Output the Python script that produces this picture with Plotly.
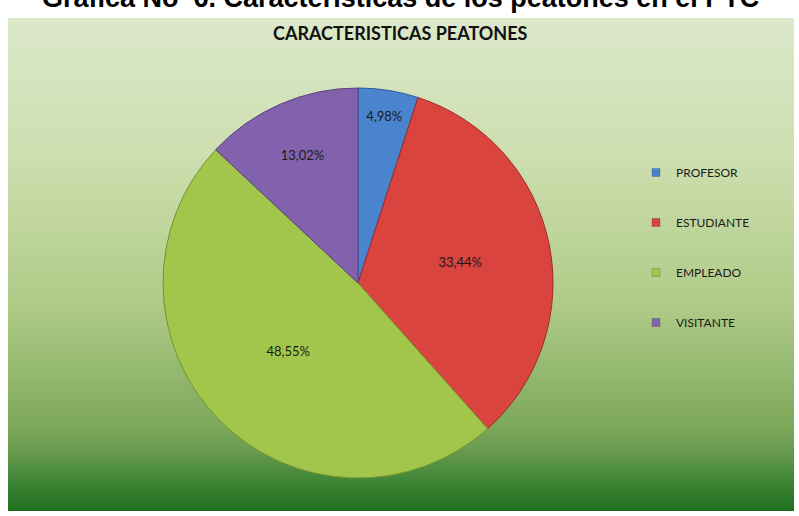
import plotly.graph_objects as go

categories = ["PROFESOR", "ESTUDIANTE", "EMPLEADO", "VISITANTE"]
values = [4.98, 33.44, 48.55, 13.02]
colors = ["#4a84cf", "#d9443f", "#a2c64c", "#8262ac"]
line_colors = ["#2d5d99", "#9c2a28", "#74952e", "#5a4080"]

W, H = 799, 516
frame_x0, frame_x1 = 8, 794
frame_y0, frame_y1 = 18, 511   # pixels from top

bg_levels = [0, 1]
bg_scale = [
    [0.0, "rgb(30,110,30)"],
    [0.065, "rgb(65,135,55)"],
    [0.125, "rgb(105,155,80)"],
    [0.17, "rgb(125,168,90)"],
    [0.42, "rgb(175,203,135)"],
    [0.72, "rgb(205,222,175)"],
    [1.0, "rgb(220,232,202)"],
]

fig = go.Figure()

fig.add_trace(go.Heatmap(
    x=[0, 1], y=bg_levels, z=[[v, v] for v in bg_levels],
    colorscale=bg_scale, zmin=0, zmax=1, zsmooth="best",
    showscale=False, hoverinfo="skip", showlegend=False,
))

for name, c in zip(categories, colors):
    fig.add_trace(go.Scatter(
        x=[None], y=[None], mode="markers", name=name,
        legendgroup=name,
        marker=dict(symbol="square", size=8, color=c,
                    line=dict(color="rgba(0,0,0,0.35)", width=0.5)),
    ))

cx, cy, r = 358, 283, 195
fig.add_trace(go.Pie(
    labels=categories, values=values, sort=False, direction="clockwise",
    rotation=0, showlegend=False,
    marker=dict(colors=colors, line=dict(color=line_colors, width=1)),
    texttemplate="%{value:.2f}%", textposition="inside",
    insidetextorientation="horizontal",
    textfont=dict(family="Lato", size=13, color="#1a1a1a"),
    domain=dict(x=[(cx - r) / W, (cx + r) / W],
                y=[(H - cy - r) / H, (H - cy + r) / H]),
    hoverinfo="label+percent",
))

fig.update_layout(
    width=W, height=H,
    margin=dict(l=0, r=0, t=0, b=0),
    paper_bgcolor="white",
    plot_bgcolor="rgba(0,0,0,0)",
    separators=",.",
    xaxis=dict(domain=[frame_x0 / W, frame_x1 / W], range=[0, 1],
               visible=False, fixedrange=True),
    yaxis=dict(domain=[(H - frame_y1) / H, (H - frame_y0) / H], range=[0, 1],
               visible=False, fixedrange=True),
    showlegend=True,
    legend=dict(x=636 / W, y=(H - 158) / H, xanchor="left", yanchor="top",
                bgcolor="rgba(0,0,0,0)", traceorder="grouped",
                tracegroupgap=31,
                font=dict(family="Lato", size=12, color="#1a1a1a"),
                itemwidth=30),
    annotations=[
        dict(text="<b>CARACTERISTICAS PEATONES</b>", x=(frame_x0 + frame_x1) / 2 / W,
             y=(H - 33) / H, xref="paper", yref="paper",
             xanchor="center", yanchor="middle", showarrow=False,
             font=dict(family="Lato", size=18, color="#111111")),
        dict(text="<b>Grafica No  6. Caracteristicas de los peatones en el PTC</b>",
             x=400 / W, y=(H - 15) / H, xref="paper", yref="paper",
             xanchor="center", yanchor="bottom", showarrow=False,
             font=dict(family="Liberation Sans", size=27, color="#000000")),
    ],
)

fig.write_html("out.html")
